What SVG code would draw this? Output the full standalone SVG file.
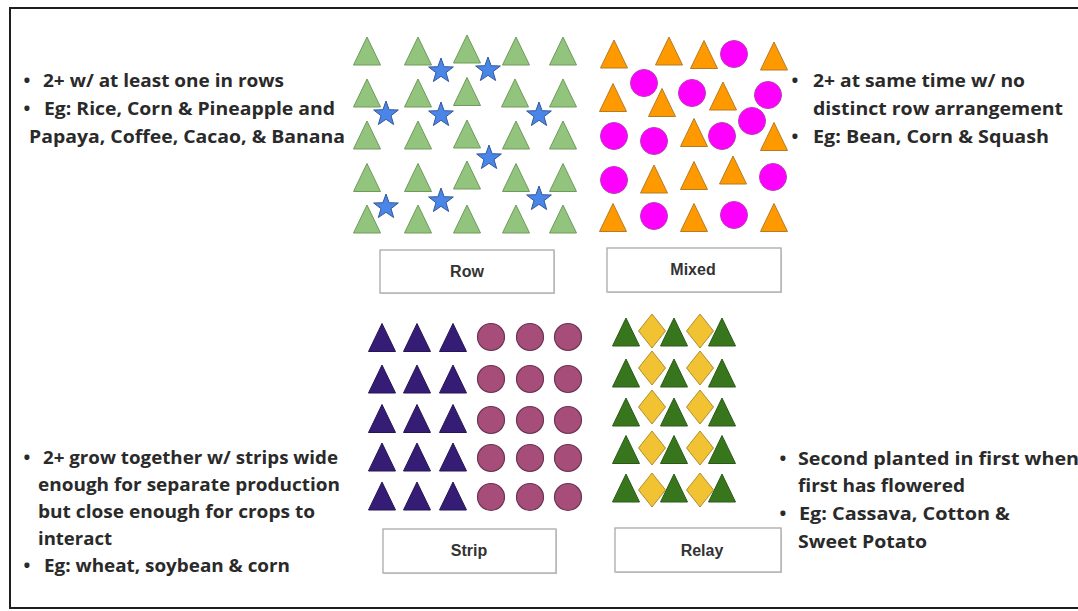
<svg xmlns="http://www.w3.org/2000/svg" width="1078" height="611" viewBox="0 0 1078 611">
<style>
.txt{font-family:"Open Sans",Lato,"Noto Sans",sans-serif;font-weight:700;font-size:18px;fill:#2a2a2a}
.bul{font-family:"Open Sans","Noto Sans",sans-serif;font-weight:700;font-size:18px;fill:#2a2a2a;text-anchor:middle}
.lbl{font-family:"Liberation Sans",Arial,sans-serif;font-weight:700;font-size:16px;fill:#333;text-anchor:middle}
.box{fill:#fff;stroke:#a9a9a9;stroke-width:1.3}
.boxsh{fill:#d6d6d6}
.gt{fill:#93c47d;stroke:#6e9a5c;stroke-width:1}
.st{fill:#4a86e8;stroke:#34589a;stroke-width:1}
.ot{fill:#ff9900;stroke:#b57a26;stroke-width:1}
.mc{fill:#ff00ff;stroke:#b83cb8;stroke-width:1}
.pt{fill:#351c75;stroke:#261556;stroke-width:1}
.rc{fill:#a64d79;stroke:#6c3452;stroke-width:1.2}
.dg{fill:#38761d;stroke:#2b5a17;stroke-width:1}
.yd{fill:#f1c232;stroke:#b08f2e;stroke-width:1}
</style>
<defs>
<path id="tri" d="M0,-14 L13.5,14 L-13.5,14 Z"/>
<path id="star" d="M0,-13 L3.115,-4.288 L12.364,-4.017 L5.041,1.638 L7.641,10.517 L0,5.3 L-7.641,10.517 L-5.041,1.638 L-12.364,-4.017 L-3.115,-4.288 Z"/>
<path id="dia" d="M0,-17 L13.5,0 L0,17 L-13.5,0 Z"/>
<circle id="dot" r="13.5"/>
</defs>
<rect width="1078" height="611" fill="#fff"/>
<rect x="10" y="8" width="1080" height="600" fill="none" stroke="#1e1e1e" stroke-width="2"/>

<g id="row-panel">
<use href="#tri" class="gt" x="367" y="51"/><use href="#tri" class="gt" x="418" y="51"/><use href="#tri" class="gt" x="467" y="49"/><use href="#tri" class="gt" x="516" y="51"/><use href="#tri" class="gt" x="563" y="51"/>
<use href="#tri" class="gt" x="367" y="93"/><use href="#tri" class="gt" x="418" y="93"/><use href="#tri" class="gt" x="467" y="91.5"/><use href="#tri" class="gt" x="515" y="93"/><use href="#tri" class="gt" x="563" y="93"/>
<use href="#tri" class="gt" x="367" y="135"/><use href="#tri" class="gt" x="418" y="135"/><use href="#tri" class="gt" x="467" y="134"/><use href="#tri" class="gt" x="516" y="135"/><use href="#tri" class="gt" x="563" y="135"/>
<use href="#tri" class="gt" x="367" y="177.5"/><use href="#tri" class="gt" x="418" y="177.5"/><use href="#tri" class="gt" x="467" y="175"/><use href="#tri" class="gt" x="516" y="177.5"/><use href="#tri" class="gt" x="563" y="177.5"/>
<use href="#tri" class="gt" x="367" y="219"/><use href="#tri" class="gt" x="418" y="219"/><use href="#tri" class="gt" x="467" y="219"/><use href="#tri" class="gt" x="516" y="219"/><use href="#tri" class="gt" x="563" y="219"/>
<use href="#star" class="st" x="441" y="71"/><use href="#star" class="st" x="488" y="70"/>
<use href="#star" class="st" x="386" y="114"/><use href="#star" class="st" x="441" y="115"/><use href="#star" class="st" x="539" y="115"/>
<use href="#star" class="st" x="489" y="158"/>
<use href="#star" class="st" x="386" y="207"/><use href="#star" class="st" x="441" y="201"/><use href="#star" class="st" x="539" y="199"/>
</g>

<g id="mixed-panel">
<use href="#tri" class="ot" x="614" y="54"/><use href="#tri" class="ot" x="669" y="51"/><use href="#tri" class="ot" x="704" y="54.5"/><use href="#dot" class="mc" x="734" y="54"/><use href="#tri" class="ot" x="774" y="56"/>
<use href="#dot" class="mc" x="644" y="83"/><use href="#tri" class="ot" x="613" y="97.5"/><use href="#tri" class="ot" x="662" y="102.5"/><use href="#dot" class="mc" x="692" y="93"/><use href="#tri" class="ot" x="723" y="96"/><use href="#dot" class="mc" x="768" y="95"/><use href="#dot" class="mc" x="752" y="121"/>
<use href="#dot" class="mc" x="614" y="136"/><use href="#dot" class="mc" x="654" y="141"/><use href="#tri" class="ot" x="694" y="132.5"/><use href="#dot" class="mc" x="722" y="136"/><use href="#tri" class="ot" x="774" y="136.5"/>
<use href="#dot" class="mc" x="614" y="180"/><use href="#tri" class="ot" x="654" y="179"/><use href="#tri" class="ot" x="694" y="175.5"/><use href="#tri" class="ot" x="733" y="170"/><use href="#dot" class="mc" x="773" y="177"/>
<use href="#tri" class="ot" x="613" y="217.5"/><use href="#dot" class="mc" x="654" y="216"/><use href="#tri" class="ot" x="694" y="217.5"/><use href="#dot" class="mc" x="734" y="215"/><use href="#tri" class="ot" x="774" y="217.5"/>
</g>

<g id="strip-panel">
<use href="#tri" class="pt" x="382" y="337.5"/><use href="#tri" class="pt" x="417" y="337.5"/><use href="#tri" class="pt" x="453" y="337.5"/>
<use href="#tri" class="pt" x="382" y="379"/><use href="#tri" class="pt" x="417" y="379"/><use href="#tri" class="pt" x="453" y="379"/>
<use href="#tri" class="pt" x="382" y="418.5"/><use href="#tri" class="pt" x="417" y="418.5"/><use href="#tri" class="pt" x="453" y="418.5"/>
<use href="#tri" class="pt" x="382" y="457"/><use href="#tri" class="pt" x="417" y="457"/><use href="#tri" class="pt" x="453" y="457"/>
<use href="#tri" class="pt" x="382" y="496"/><use href="#tri" class="pt" x="417" y="496"/><use href="#tri" class="pt" x="453" y="496"/>
<use href="#dot" class="rc" x="491" y="337"/><use href="#dot" class="rc" x="530" y="337"/><use href="#dot" class="rc" x="568" y="337"/>
<use href="#dot" class="rc" x="491" y="379"/><use href="#dot" class="rc" x="530" y="379"/><use href="#dot" class="rc" x="568" y="379"/>
<use href="#dot" class="rc" x="491" y="420"/><use href="#dot" class="rc" x="530" y="420"/><use href="#dot" class="rc" x="568" y="420"/>
<use href="#dot" class="rc" x="491" y="458"/><use href="#dot" class="rc" x="530" y="458"/><use href="#dot" class="rc" x="568" y="458"/>
<use href="#dot" class="rc" x="491" y="497"/><use href="#dot" class="rc" x="530" y="497"/><use href="#dot" class="rc" x="568" y="497"/>
</g>

<g id="relay-panel">
<use href="#tri" class="dg" x="626" y="332"/><use href="#tri" class="dg" x="674" y="332"/><use href="#tri" class="dg" x="722" y="332"/>
<use href="#tri" class="dg" x="626" y="373"/><use href="#tri" class="dg" x="674" y="373"/><use href="#tri" class="dg" x="722" y="373"/>
<use href="#tri" class="dg" x="626" y="412"/><use href="#tri" class="dg" x="674" y="412"/><use href="#tri" class="dg" x="722" y="412"/>
<use href="#tri" class="dg" x="626" y="449.5"/><use href="#tri" class="dg" x="674" y="449.5"/><use href="#tri" class="dg" x="722" y="449.5"/>
<use href="#tri" class="dg" x="626" y="488"/><use href="#tri" class="dg" x="674" y="488"/><use href="#tri" class="dg" x="722" y="488"/>
<use href="#dia" class="yd" x="652" y="331"/><use href="#dia" class="yd" x="700" y="331"/>
<use href="#dia" class="yd" x="652" y="368"/><use href="#dia" class="yd" x="700" y="368"/>
<use href="#dia" class="yd" x="652" y="407"/><use href="#dia" class="yd" x="700" y="407"/>
<use href="#dia" class="yd" x="652" y="448"/><use href="#dia" class="yd" x="700" y="448"/>
<use href="#dia" class="yd" x="652" y="490"/><use href="#dia" class="yd" x="700" y="490"/>
</g>

<g id="label-row"><rect class="boxsh" x="381" y="251" width="174" height="43"/><rect class="box" x="380" y="250" width="174" height="43"/><text class="lbl" x="467" y="277">Row</text></g>
<g id="label-mixed"><rect class="boxsh" x="608" y="249" width="174" height="44"/><rect class="box" x="607" y="248" width="174" height="44"/><text class="lbl" x="693" y="275">Mixed</text></g>
<g id="label-strip"><rect class="boxsh" x="384" y="530" width="173" height="44"/><rect class="box" x="383" y="529" width="173" height="44"/><text class="lbl" x="469" y="556">Strip</text></g>
<g id="label-relay"><rect class="boxsh" x="616" y="529" width="166" height="44"/><rect class="box" x="615" y="528" width="166" height="44"/><text class="lbl" x="702" y="556">Relay</text></g>

<g id="text-row">
<text class="bul" x="27" y="87">•</text><text class="txt" x="43" y="87" textLength="241" lengthAdjust="spacingAndGlyphs">2+ w/ at least one in rows</text>
<text class="bul" x="27" y="115">•</text><text class="txt" x="44" y="115" textLength="291" lengthAdjust="spacingAndGlyphs">Eg: Rice, Corn &amp; Pineapple and</text>
<text class="txt" x="29" y="143" textLength="316" lengthAdjust="spacingAndGlyphs">Papaya, Coffee, Cacao, &amp; Banana</text>
</g>
<g id="text-mixed">
<text class="bul" x="795" y="87">•</text><text class="txt" x="813" y="87" textLength="212" lengthAdjust="spacingAndGlyphs">2+ at same time w/ no</text>
<text class="txt" x="813" y="115" textLength="250" lengthAdjust="spacingAndGlyphs">distinct row arrangement</text>
<text class="bul" x="795" y="143">•</text><text class="txt" x="813" y="143" textLength="236" lengthAdjust="spacingAndGlyphs">Eg: Bean, Corn &amp; Squash</text>
</g>
<g id="text-strip">
<text class="bul" x="27" y="464">•</text><text class="txt" x="43" y="464" textLength="295" lengthAdjust="spacingAndGlyphs">2+ grow together w/ strips wide</text>
<text class="txt" x="38" y="491" textLength="302" lengthAdjust="spacingAndGlyphs">enough for separate production</text>
<text class="txt" x="38" y="518" textLength="277" lengthAdjust="spacingAndGlyphs">but close enough for crops to</text>
<text class="txt" x="38" y="545" textLength="74" lengthAdjust="spacingAndGlyphs">interact</text>
<text class="bul" x="27" y="572">•</text><text class="txt" x="44" y="572" textLength="246" lengthAdjust="spacingAndGlyphs">Eg: wheat, soybean &amp; corn</text>
</g>
<g id="text-relay">
<text class="bul" x="783" y="465">•</text><text class="txt" x="798" y="465" textLength="281" lengthAdjust="spacingAndGlyphs">Second planted in first when</text>
<text class="txt" x="798" y="492" textLength="167" lengthAdjust="spacingAndGlyphs">first has flowered</text>
<text class="bul" x="783" y="520">•</text><text class="txt" x="799" y="520" textLength="211" lengthAdjust="spacingAndGlyphs">Eg: Cassava, Cotton &amp;</text>
<text class="txt" x="798" y="548" textLength="129" lengthAdjust="spacingAndGlyphs">Sweet Potato</text>
</g>
</svg>
